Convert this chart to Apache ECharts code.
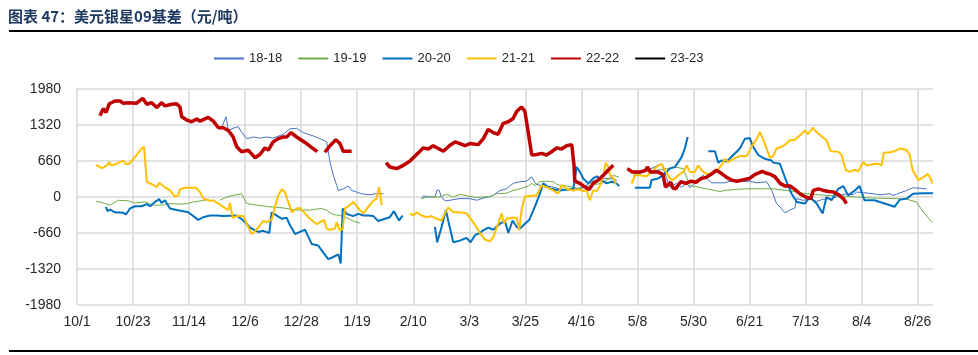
<!DOCTYPE html>
<html><head><meta charset="utf-8">
<script src="https://cdn.jsdelivr.net/npm/echarts@6/dist/echarts.min.js"></script>
<style>html,body{margin:0;padding:0;background:#fff}#c{width:978px;height:355px}</style>
</head><body><div id="c"></div>
<script>
// x = days since 10/1 (leap-year season), tick every 22 days
const tickLabels = ['10/1','10/23','11/14','12/6','12/28','1/19','2/10','3/3','3/25','4/16','5/8','5/30','6/21','7/13','8/4','8/26'];
const yTicks = [-1980, -1320, -660, 0, 660, 1320, 1980];
const seriesNames = ['18-18','19-19','20-20','21-21','22-22','23-23'];

const s18 = [
 [[57,1300],[58.5,1470],[59.4,1220],[61.3,1260],[63.3,1290],[64.6,1190],[66.6,1070],[69.2,1100],[71.8,1080],[74.5,1100],[77,1080],[81,1150],[83.6,1250],[86.2,1260],[88.8,1180],[92.7,1120],[95.4,1070],[98,1010],[99.3,640],[100.6,400],[102.6,120],[104.5,150],[106.5,200],[107.8,120],[109.8,90],[111.7,60],[115,40],[117,60],[120.2,60]],
 [[135.3,-30],[136,20],[138.5,0],[140.5,0],[141.4,130],[142.2,120],[143,0],[144.5,-70],[146.4,-60],[150,-30],[154.2,-30],[156.9,-60],[159.5,-20],[161.4,0],[163.4,30],[166,120],[168.6,150],[171.2,250],[173.9,280],[176.5,290],[178.5,370],[180,240],[182,210],[184.3,200],[186.9,180],[189.6,150],[192.8,130],[196.1,150],[198.7,180],[202.6,290],[206.6,340],[210.5,330],[212,300]],
 [[219,420],[221,430],[224.9,510],[227.5,570],[229.5,610],[230.1,520],[232.7,180],[235.4,250],[237.3,180],[239.3,250],[240.6,170],[245.8,400],[247.1,340],[249.1,260],[254.3,260],[256.3,290],[259.5,280],[264.1,290],[266.8,260],[270.7,280],[272.7,120],[274.6,-120],[275.9,-180],[277.9,-290],[279.8,-240],[281.8,-200],[282.5,-30],[285,-60],[287.7,-40],[290.3,-80],[292.9,-40],[296.2,-30],[299.5,30],[302.1,60],[304.7,40],[306,90],[308.6,80],[312.5,60],[315.1,40],[319.1,60],[320.4,30],[325.6,120],[328.2,170],[333.5,150]]
];
const s19 = [
 [[7.5,-80],[10.3,-110],[13,-150],[16.2,-60],[20.1,-70],[22.8,-110],[26.7,-90],[29.9,-150],[33.2,-150],[36.5,-120],[40.4,-130],[43.7,-120],[45.6,-90],[48.9,-70],[50.9,-50]],
 [[56.1,-60],[58.8,0],[61.3,30],[64.6,60],[66.6,-120],[70.5,-150],[75.7,-180],[81,-200],[86.2,-240],[91.4,-240],[96,-210],[98,-240],[99.3,-290],[100.6,-320],[103.2,-340],[105.8,-380],[108.4,-440],[111.1,-480]],
 [[135.3,-30],[138.5,10],[142.5,0],[145.1,50],[147.7,0],[150.3,50],[154.2,10],[156.9,-10],[159.5,0],[162.1,10],[164.7,60],[168.6,70],[171.2,120],[173.9,150],[177.1,200],[178.5,250],[179.7,210],[181.7,280],[184.3,290],[186.9,280],[188.9,220],[192.2,200],[194.8,180],[197.4,150],[201.3,210],[206.6,260],[210.5,400],[212.8,360]],
 [[218.3,400],[221,460],[227.5,490],[231.4,520],[234.7,550],[238,520],[240.6,210],[247.1,150],[252.4,100],[254.3,120],[258.9,140],[262.9,150],[268.1,150],[273.3,150],[278.5,120],[282.5,90],[286.4,60],[294.2,30],[299.5,20],[306,0],[312.5,-20],[321.7,-30],[325.6,-40],[329.5,-90],[332.1,-270],[335.8,-470]]
];
const s20 = [
 [[11.3,-180],[12,-260],[13,-230],[14.9,-280],[18.2,-290],[19.2,-320],[20.8,-210],[22.8,-170],[25.4,-170],[27.4,-130],[28.7,-170],[30.6,-90],[32.3,-40],[33.2,-110],[34.5,-60],[36.5,-210],[39.1,-240],[41.7,-260],[42.4,-240],[43.7,-280],[47.6,-420],[49.6,-370],[52.2,-340],[54.8,-340],[57.4,-350],[62.7,-340],[65.3,-430],[67.9,-560],[69.9,-610],[71.2,-640],[73.1,-620],[75.5,-660],[76.4,-280],[78.4,-340],[80.4,-400],[82.3,-380],[83.6,-520],[85.6,-680],[87.5,-640],[89.5,-600],[90.8,-730],[92.1,-860],[94.7,-890],[96.7,-1020],[98.6,-1140],[100.6,-1100],[102.6,-1050],[103.5,-1220],[104.3,-210],[105.8,-310],[108.4,-350],[110.4,-310],[112.4,-340],[114.3,-340],[116.3,-350],[118.2,-440],[120.9,-400],[122.8,-370],[124.4,-260],[126.4,-430],[127.8,-340]],
 [[140.5,-550],[141.4,-830],[143.1,-550],[144.8,-240],[145.7,-430],[147.7,-830],[150.3,-800],[152.9,-750],[154.5,-830],[156.2,-700],[158.2,-660],[159.5,-610],[161.4,-560],[163.4,-600],[166,-490],[168,-440],[169.3,-660],[171,-430],[172.6,-550],[173.9,-580],[175.8,-490],[177.5,-420],[179.7,-180],[181.7,60],[183,250],[185.7,150],[189.6,120],[194.8,150],[196.1,550],[197.4,460],[198.7,340],[200.7,250],[202.6,340],[204,380],[205.9,310],[207.9,250],[209.9,280],[211.8,250],[212.8,200]],
 [[219,170],[224.9,170],[225.5,310],[228.1,340],[230.1,400],[232.7,520],[234.7,550],[237.3,730],[238.6,890],[239.7,1100]],
 [[247.8,840],[250.4,840],[251.7,630],[253,670],[255,650],[257.6,770],[260.2,890],[262.2,1070],[264.1,1080],[265.4,920],[267.4,770],[270,700],[272.6,670],[273.3,630],[275.9,610],[278.5,280],[280.5,60],[282.5,-90],[285.7,-120],[287.7,0],[290.3,-120],[292.7,-300],[294.2,0],[296.2,-60],[298.8,150],[300.8,200],[302.7,30],[305.3,120],[307.2,200],[309.1,-60],[313,-60],[317,-120],[320.9,-180],[322.9,-50],[325.6,-30],[328.2,60],[332.1,70],[336,70]]
];
const s21 = [
 [[7.5,590],[9.7,530],[11.7,580],[12.7,640],[13.2,580],[15.6,610],[18.2,670],[19.2,600],[20.5,610],[22.8,730],[25.4,890],[26.3,920],[27.4,280],[29.9,220],[31.3,180],[32.3,260],[34.5,180],[36.5,120],[38.4,10],[39.8,30],[40.4,140],[42.4,170],[44.3,170],[46.7,170],[48.3,90],[49.6,-30],[52.2,-70],[53.5,-60],[55.5,-120],[57.4,-180],[59.4,-240],[60,-110],[61.1,-380],[62.7,-350],[65.3,-350],[66.6,-490],[68.6,-680],[70.5,-600],[73.1,-440],[74.5,-460],[76.4,-420],[77.7,-180],[79,30],[80.4,140],[81.6,90],[82.9,-90],[84.3,-280],[86.2,-210],[87.5,-200],[89.5,-300],[91.4,-400],[94.1,-500],[95.4,-460],[97,-420],[98,-580],[99.3,-600],[101.3,-580],[101.9,-460],[103.2,-610],[104.3,-580],[105.2,-210],[106.5,-170],[108.4,-90],[109.8,-170],[111.1,-240],[112.4,-300],[114.3,-180],[116.3,-70],[117.6,-30],[118.5,180],[119.6,-150]],
 [[130.7,-300],[132,-340],[133.3,-280],[135.3,-340],[137.2,-370],[139.2,-350],[141.2,-400],[143.1,-430],[144.4,-300],[145.7,-190],[147.7,-280],[150.3,-280],[152.9,-300],[155.5,-460],[158.2,-660],[160.1,-780],[162.1,-810],[163.4,-730],[165.3,-490],[166.7,-300],[167.6,-490],[168.6,-400],[170.6,-380],[172.6,-380],[173.6,-610],[174.5,-240],[175.8,10],[180.4,30],[182.4,210],[184.3,180],[186.9,120],[188.9,60],[190.2,220],[192.2,150],[194.8,120],[196.7,140],[198.7,110],[200,120],[201.3,-60],[202.6,120],[204,110],[205.3,210],[206.6,400],[207.6,630],[208.5,550],[209.2,400],[210.5,350],[211.5,230]],
 [[217.7,250],[219,400],[221,400],[223.6,380],[225.5,460],[227.5,550],[229.5,610],[230.8,490],[232.7,340],[234,310],[236,400],[238,460],[239.3,580],[240.6,460],[242.5,460],[243.8,580],[245.2,490],[247.1,420],[249.1,420],[251.1,480],[253,580],[254.3,700],[255.6,640],[257.6,700],[260.2,750],[262.9,750],[264.8,920],[266.8,1070],[268.1,1190],[270,980],[272,720],[273.3,750],[274.6,890],[276.6,920],[278.5,980],[279.8,1040],[281.8,1050],[283.8,1130],[285.7,1220],[287,1150],[288.8,1270],[290.3,1190],[292.3,1110],[294.2,1040],[295.8,840],[298.8,830],[300.1,770],[301.8,490],[303.4,460],[305.3,500],[306.6,470],[308.6,640],[309.9,580],[312.5,600],[314.5,610],[315.8,580],[316.7,810],[319.1,820],[321,840],[323,890],[325.6,860],[326.9,770],[328,490],[330.2,310],[332.1,360],[333.9,420],[334.8,360],[335.8,250]]
];
const s22 = [
 [[9,1490],[10.3,1620],[11.4,1550],[12.7,1710],[14.9,1760],[16.9,1760],[18.2,1720],[20.1,1730],[23.4,1720],[25.8,1810],[27.4,1700],[29.3,1730],[31.3,1640],[33.2,1730],[34.5,1670],[37.2,1700],[39.1,1710],[40.4,1650],[41.1,1470],[43.1,1410],[45,1380],[47,1430],[48.3,1390],[51.5,1460],[53.5,1390],[55.5,1270],[57.4,1270],[59.4,1220],[61.3,1100],[62.7,920],[64.6,830],[67.2,860],[69.9,720],[71.8,780],[73.8,900],[75.1,860],[77,1010],[79,1070],[81,1100],[82.3,1100],[84,1180],[86.2,1100],[90.1,980],[94.3,830]],
 [[97.3,820],[99.3,940],[101.6,1050],[103.2,980],[104.5,840],[107.8,840]],
 [[121.3,630],[122.8,550],[125.5,520],[128.1,580],[130.7,660],[133.3,780],[135.9,900],[137.9,880],[139.8,940],[141.8,890],[143.8,840],[146.4,950],[148.4,1010],[150.3,980],[152.3,940],[154.2,980],[157.5,960],[159.5,1070],[161.4,1240],[163.4,1180],[165.3,1150],[167.3,1350],[169.3,1380],[171.2,1440],[172.6,1570],[174.5,1650],[175.8,1570],[177.1,1190],[178.5,770],[180.4,780],[182.4,800],[184.3,770],[186.3,830],[188.3,900],[190.2,880],[192.2,940],[194.2,960],[195.1,580],[195.4,290],[197.4,250],[199.4,180],[201.1,140],[202.6,250],[204.6,310],[206.6,400],[208.5,490],[210.5,580]],
 [[216,520],[218,460],[221,460],[223,480],[224,550],[225,460],[228,460],[230,410],[231,180],[233,270],[234,160],[235,150],[237,280],[239,250],[241,290],[243,270],[245,340],[247,360],[249,420],[251,490],[253,430],[255,360],[257,310],[259,290],[262,320],[264,340],[266,410],[269,470],[271,430],[272,420],[274,370],[276,250],[278,200],[280,200],[282,130],[284,50],[286,0],[288,-30],[289,120],[291,150],[293,120],[295,100],[297,90],[299,40],[301,-40],[302,-120]]
];
const s23 = [];

const colors = ['#4472C4','#70AD47','#0070C0','#FFC000','#C00000','#000000'];
const widths = [1, 1, 2, 2, 3.5, 3.5];
const allSeries = [s18, s19, s20, s21, s22, s23];

function joinSegments(segs) {
  const out = [];
  segs.forEach((seg, i) => {
    if (i > 0) out.push([(segs[i-1][segs[i-1].length-1][0] + seg[0][0]) / 2, null]);
    seg.forEach(p => out.push(p));
  });
  return out;
}

const FONT = 'Liberation Sans';
const chart = echarts.init(document.getElementById('c'), null, {renderer: 'canvas'});
chart.setOption({
  animation: false,
  backgroundColor: '#fff',
  title: {
    text: '图表 47：美元银星09基差（元/吨）',
    left: 3, top: 4,
    textStyle: {fontFamily: 'Noto Sans CJK SC', fontSize: 15, fontWeight: 'bold', color: '#1F3A60'}
  },
  graphic: [
    {type: 'line', shape: {x1: 9, y1: 31, x2: 978, y2: 31}, style: {stroke: '#000', lineWidth: 2}},
    {type: 'line', shape: {x1: 9, y1: 351, x2: 978, y2: 351}, style: {stroke: '#000', lineWidth: 2}}
  ],
  legend: {
    left: 208, top: 47,
    itemWidth: 30, itemHeight: 14, itemGap: 15,
    itemStyle: {color: 'transparent', borderColor: 'transparent', borderWidth: 0},
    textStyle: {fontFamily: FONT, fontSize: 13, color: '#262626'},
    data: seriesNames
  },
  grid: {left: 77, right: 45, top: 89, bottom: 50, containLabel: false},
  xAxis: {
    type: 'value', min: 0, max: 336, interval: 22,
    axisLine: {show: false}, axisTick: {show: false},
    splitLine: {show: true, showMaxLine: false, lineStyle: {color: '#D9D9D9', width: 1.5}},
    axisLabel: {
      fontFamily: FONT, fontSize: 14, color: '#262626', margin: 10, showMaxLabel: false,
      formatter: v => (v % 22 === 0 && v / 22 < tickLabels.length) ? tickLabels[v / 22] : ''
    }
  },
  yAxis: {
    type: 'value', min: yTicks[0], max: yTicks[yTicks.length-1], interval: 660,
    axisLine: {show: false}, axisTick: {show: false},
    splitLine: {show: true, lineStyle: {color: '#D9D9D9', width: 1.5}},
    axisLabel: {fontFamily: FONT, fontSize: 14, color: '#262626', margin: 16, formatter: v => String(v)}
  },
  series: seriesNames.map((name, i) => ({
    name, type: 'line', symbol: 'none', connectNulls: false,
    data: allSeries[i].length ? joinSegments(allSeries[i]) : [],
    lineStyle: {color: colors[i], width: widths[i]},
    itemStyle: {color: colors[i]},
    z: 2 + i
  }))
});
</script></body></html>
